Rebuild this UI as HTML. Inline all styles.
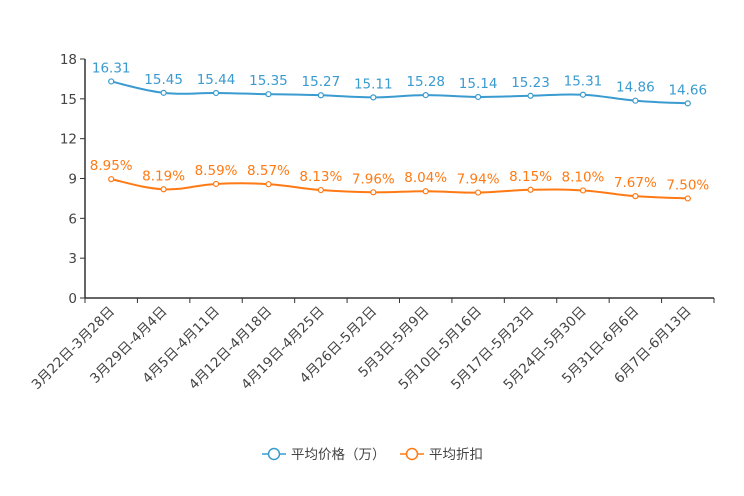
<!DOCTYPE html>
<html><head><meta charset="utf-8"><style>
body{margin:0;background:#fff;}
svg{display:block;font-family:"DejaVu Sans","Noto Sans CJK SC",sans-serif;}
</style></head><body>
<svg id="c" width="744" height="496"></svg>
<script>
const categories=["3月22日-3月28日","3月29日-4月4日","4月5日-4月11日","4月12日-4月18日","4月19日-4月25日","4月26日-5月2日","5月3日-5月9日","5月10日-5月16日","5月17日-5月23日","5月24日-5月30日","5月31日-6月6日","6月7日-6月13日"];
const priceValues=[16.31,15.45,15.44,15.35,15.27,15.11,15.28,15.14,15.23,15.31,14.86,14.66];
const discountValues=[8.95,8.19,8.59,8.57,8.13,7.96,8.04,7.94,8.15,8.10,7.67,7.50];
const yTicks=[0,3,6,9,12,15,18];
const NS="http://www.w3.org/2000/svg";
const svg=document.getElementById('c');
const L=85,R=714,T=59,B=298,YMAX=18;
const band=(R-L)/categories.length;
const x=i=>L+band*(i+0.5);
const y=v=>B-(v/YMAX)*(B-T);
function mk(tag,attrs,parent){const e=document.createElementNS(NS,tag);for(const k in attrs)e.setAttribute(k,attrs[k]);(parent||svg).appendChild(e);return e;}
const yAxis=mk('g',{});


mk('line',{x1:L,y1:T,x2:L,y2:B,stroke:'#333','stroke-width':1.5},yAxis);
yTicks.forEach(t=>{
  mk('line',{x1:L-5,y1:y(t),x2:L,y2:y(t),stroke:'#333'},yAxis);
  const tx=mk('text',{x:L-8,y:y(t)+5,'text-anchor':'end','font-size':13.5,fill:'#444'},yAxis);
  tx.textContent=t;
  
  
});
const xAxis=mk('g',{});


mk('line',{x1:L,y1:B,x2:R,y2:B,stroke:'#333','stroke-width':1.5},xAxis);
for(let i=0;i<=categories.length;i++){mk('line',{x1:L+band*i,y1:B,x2:L+band*i,y2:B+5,stroke:'#333'},xAxis);}
categories.forEach((c,i)=>{
  const tx=mk('text',{x:x(i)+4,y:B+14,'text-anchor':'end','font-size':13.5,fill:'#444',transform:`rotate(-45 ${x(i)+4} ${B+14})`},xAxis);
  tx.textContent=c;
  
  
});
function smooth(pts){
  let d=`M${pts[0][0]},${pts[0][1]}`;
  for(let i=0;i<pts.length-1;i++){
    const p0=pts[Math.max(0,i-1)],p1=pts[i],p2=pts[i+1],p3=pts[Math.min(pts.length-1,i+2)];
    const t=0.2;
    d+=` C${p1[0]+(p2[0]-p0[0])*t},${p1[1]+(p2[1]-p0[1])*t} ${p2[0]-(p3[0]-p1[0])*t},${p2[1]-(p3[1]-p1[1])*t} ${p2[0]},${p2[1]}`;
  }
  return d;
}
function series(vals,color,name,fmt){
  const g=mk('g',{});
  
  
  const pts=vals.map((v,i)=>[x(i),y(v)]);
  mk('path',{d:smooth(pts),fill:'none',stroke:color,'stroke-width':2},g);
  vals.forEach((v,i)=>{
    const c=mk('circle',{cx:x(i),cy:y(v),r:2.5,fill:'#fff',stroke:color,'stroke-width':1.2},g);
    
    
    const t=mk('text',{x:x(i),y:y(v)-9,'text-anchor':'middle','font-size':13.5,fill:color},g);
    t.textContent=fmt(v);
    
    
  });
}
series(priceValues,'#3a9bd0','price-series',v=>v.toFixed(2));
series(discountValues,'#ff7a14','discount-series',v=>v.toFixed(2)+'%');
function legend(x0,color,label,name){
  const g=mk('g',{});
  
  
  mk('line',{x1:x0,y1:454,x2:x0+24,y2:454,stroke:color,'stroke-width':1.5},g);
  mk('circle',{cx:x0+12,cy:454,r:5.5,fill:'#fff',stroke:color,'stroke-width':1.5},g);
  const t=mk('text',{x:x0+29,y:459,'font-size':13.5,fill:'#444'},g);
  t.textContent=label;
}
legend(262,'#3a9bd0','平均价格（万）','legend-price');
legend(400,'#ff7a14','平均折扣','legend-discount');
</script>
</body></html>
